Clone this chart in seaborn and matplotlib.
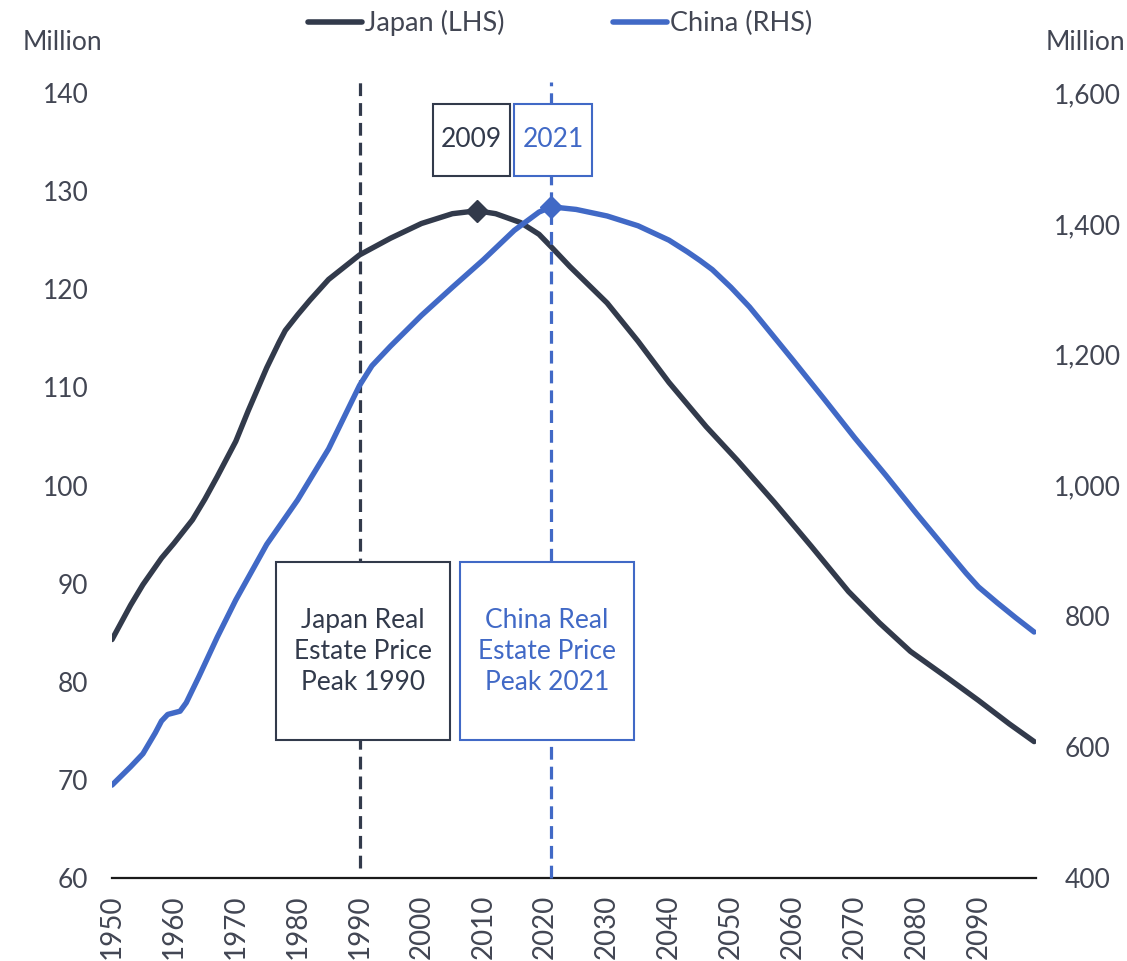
import matplotlib.pyplot as plt
import matplotlib.patches as mpatches
import matplotlib.lines as mlines
import seaborn as sns
import numpy as np

# population, million
japan_years = [1950, 1953, 1955, 1958, 1960, 1963, 1965, 1967, 1970, 1972, 1975, 1977,
               1978, 1980, 1982, 1985, 1990, 1995, 2000, 2005, 2009, 2012, 2016, 2019,
               2021, 2024, 2030, 2035, 2040, 2046, 2051, 2057, 2063, 2069, 2074,
               2079, 2085, 2090, 2095, 2099]
japan_pop = [84.3, 87.8, 89.9, 92.6, 94.1, 96.5, 98.6, 100.9, 104.5, 107.6, 112.0, 114.6,
             115.8, 117.4, 118.9, 121.0, 123.5, 125.2, 126.7, 127.7, 128.0, 127.7, 126.8, 125.6,
             124.3, 122.3, 118.6, 114.7, 110.5, 106.0, 102.6, 98.3, 93.8, 89.2, 86.0,
             83.1, 80.4, 78.1, 75.7, 73.9]

china_years = [1950, 1953, 1955, 1957, 1958, 1959, 1961, 1962, 1964, 1967, 1970, 1975,
               1980, 1985, 1990, 1992, 1995, 2000, 2005, 2010, 2015, 2019, 2021, 2025,
               2030, 2035, 2040, 2043, 2045, 2047, 2050, 2053, 2055, 2060, 2065,
               2070, 2075, 2080, 2085, 2088, 2090, 2093, 2096, 2099]
china_pop = [542, 570, 590, 622, 640, 650, 655, 668, 707, 768, 825, 910,
             978, 1056, 1153, 1183, 1213, 1260, 1303, 1345, 1390, 1418, 1426, 1422,
             1412, 1397, 1375, 1357, 1344, 1330, 1303, 1273, 1250, 1192, 1133,
             1073, 1016, 957, 900, 866, 845, 821, 798, 776]

xticks = list(range(1950, 2100, 10))
left_ticks = [60, 70, 80, 90, 100, 110, 120, 130, 140]
right_ticks = [400, 600, 800, 1000, 1200, 1400, 1600]

peaks = {"Japan": 1990, "China": 2021}
japan_col = "#323a4b"
china_col = "#4169c6"
text_col = "#424653"

sns.set_theme(style="white")
plt.rcParams['font.family'] = ['Lato', 'DejaVu Sans']

fig = plt.figure(figsize=(11.27, 9.61), dpi=100)
ax = fig.add_axes([112 / 1127, 1 - 878 / 961, 924 / 1127, 785 / 961])
ax2 = ax.twinx()

sns.lineplot(x=japan_years, y=japan_pop, ax=ax, color=japan_col, linewidth=3.9,
             solid_capstyle='round', solid_joinstyle='round', zorder=3)
sns.lineplot(x=china_years, y=china_pop, ax=ax2, color=china_col, linewidth=3.9,
             solid_capstyle='round', solid_joinstyle='round', zorder=3)

# peak markers
ji = int(np.argmax(japan_pop))
ci = int(np.argmax(china_pop))
ax.plot(japan_years[ji], japan_pop[ji], marker='D', ms=11, color=japan_col, zorder=4)
ax2.plot(china_years[ci], china_pop[ci], marker='D', ms=11, color=china_col, zorder=4)

ax.set_xlim(1950, 2099.3)
ax.set_ylim(60, 140)
ax2.set_ylim(400, 1600)
ax.set_xticks(xticks)
ax.set_xticklabels([str(t) for t in xticks], rotation=90, fontsize=20, color=text_col,
                   va='top')
ax.set_yticks(left_ticks)
ax.set_yticklabels([str(t) for t in left_ticks], fontsize=19, color=text_col)
ax2.set_yticks(right_ticks)
ax2.set_yticklabels([f"{t:,}" for t in right_ticks], fontsize=19, color=text_col,
                    ha='center')
ax.tick_params(axis='x', length=0, pad=12)
ax.tick_params(axis='y', length=0, pad=17)
ax2.tick_params(axis='y', length=0, pad=37)

for a in (ax, ax2):
    for s in ['left', 'right', 'top', 'bottom']:
        a.spines[s].set_visible(False)
    a.grid(False)
ax.spines['bottom'].set_visible(True)
ax.spines['bottom'].set_color('#1a1a1a')
ax.spines['bottom'].set_linewidth(1.6)
ax.patch.set_visible(False)

# vertical dashed lines at the real estate peaks
ax2.axvline(peaks["Japan"], ymin=0.013, ymax=1.014, color=japan_col, lw=2.3,
            ls=(0, (4, 2.2)), clip_on=False, zorder=1)
ax2.axvline(peaks["China"], ymin=0.0, ymax=1.014, color=china_col, lw=2.3,
            ls=(0, (4, 2.2)), clip_on=False, zorder=1)


def box(x0, x1, y0, y1, col, text):
    r = mpatches.Rectangle((x0, y0), x1 - x0, y1 - y0, transform=ax2.transAxes,
                           facecolor='white', edgecolor=col, lw=1.5, zorder=5)
    ax2.add_patch(r)
    ax2.text((x0 + x1) / 2, (y0 + y1) / 2, text, transform=ax2.transAxes,
             ha='center', va='center', color=col, fontsize=19, zorder=6,
             linespacing=1.3)


box(0.1775, 0.3658, 0.1758, 0.4025, japan_col, "Japan Real\nEstate Price\nPeak 1990")
box(0.3766, 0.5649, 0.1758, 0.4025, china_col, "China Real\nEstate Price\nPeak 2021")
box(0.3474, 0.4307, 0.8943, 0.986, japan_col, str(japan_years[ji]))
box(0.4351, 0.5195, 0.8943, 0.986, china_col, str(china_years[ci]))

# axis unit labels
fig.text(62 / 1127, 1 - 43 / 961, "Million", ha='center', va='center', fontsize=19,
         color=text_col)
fig.text(1085 / 1127, 1 - 43 / 961, "Million", ha='center', va='center', fontsize=19,
         color=text_col)

handles = [mlines.Line2D([], [], color=japan_col, lw=4, solid_capstyle='round'),
           mlines.Line2D([], [], color=china_col, lw=4, solid_capstyle='round')]
fig.legend(handles, ["Japan (LHS)", "China (RHS)"], loc='center',
           bbox_to_anchor=(560 / 1127, 1 - 23 / 961), ncol=2, frameon=False,
           fontsize=19.5, handlelength=2.0, handletextpad=0.1, columnspacing=4.0,
           labelcolor=text_col)

fig.savefig("out.png", dpi=100)
